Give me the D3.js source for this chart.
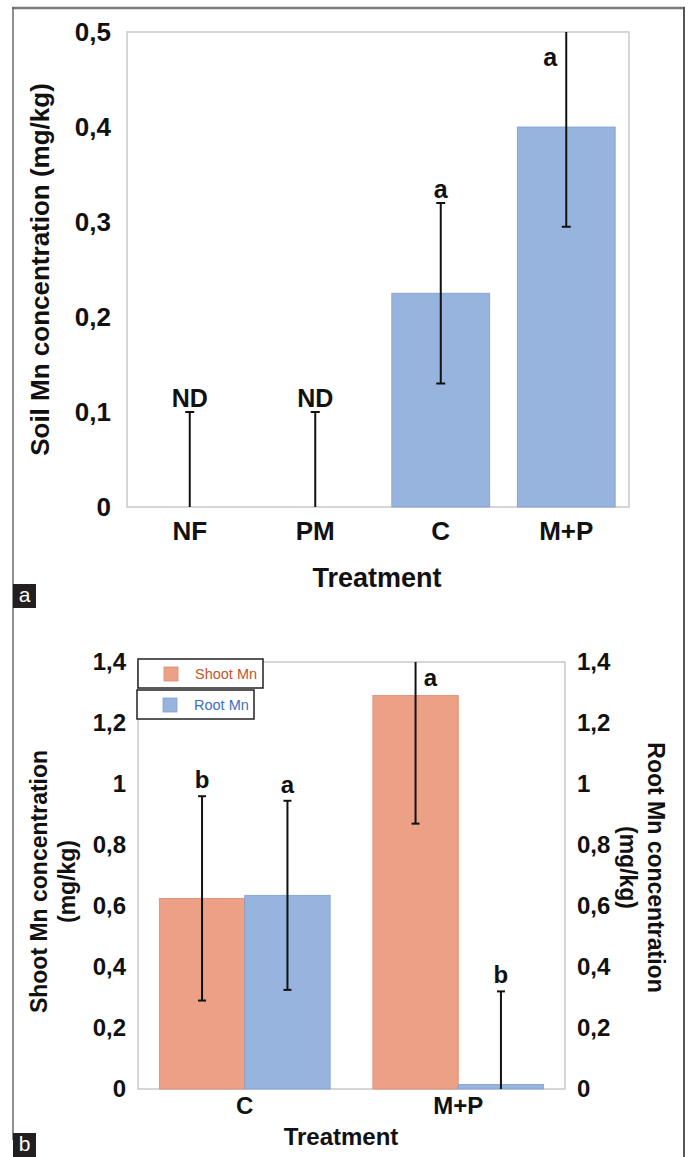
<!DOCTYPE html>
<html>
<head>
<meta charset="utf-8">
<script src="https://cdn.jsdelivr.net/npm/d3@7"></script>
<style>
  html, body { margin: 0; padding: 0; background: #fff; }
  svg { display: block; }
  text { font-family: "Liberation Sans", Arial, sans-serif; }
</style>
</head>
<body>
<svg id="chart" width="689" height="1157"></svg>
<script>
// ---------- DATA ----------
// Panel a: soil Mn
const categoriesA = ["NF", "PM", "C", "M+P"];
const soilMn      = [0, 0, 0.225, 0.4];
const soilErr     = [0.1, 0.1, 0.095, 0.105];
const soilLetters = ["ND", "ND", "a", "a"];
const ticksA      = [0, 0.1, 0.2, 0.3, 0.4, 0.5];

// Panel b: shoot and root Mn
const categoriesB   = ["C", "M+P"];
const seriesB       = ["Shoot Mn", "Root Mn"];
const shootMn       = [0.625, 1.29];
const shootErr      = [0.335, 0.42];
const rootMn        = [0.635, 0.015];
const rootErr       = [0.31, 0.305];
const shootLetters  = ["b", "a"];
const rootLetters   = ["a", "b"];
const ticksB        = [0, 0.2, 0.4, 0.6, 0.8, 1, 1.2, 1.4];

// ---------- STYLE ----------
const BLUE = "#96b4de", BLUE_EDGE = "#7f9fd2";
const SALMON = "#eca086", SALMON_EDGE = "#d98b70";
const GRID = "#c9c9c9";
const fmt = v => v === 0 ? "0" : String(+v.toFixed(2)).replace(".", ",");

const svg = d3.select("#chart");

// outer frame
svg.append("line").attr("x1", 12).attr("x2", 685).attr("y1", 8).attr("y2", 8)
  .attr("stroke", "#7a7a7a").attr("stroke-width", 2.5);
svg.append("line").attr("x1", 13).attr("x2", 13).attr("y1", 7).attr("y2", 1140)
  .attr("stroke", "#6a6a6a").attr("stroke-width", 1.5);
svg.append("line").attr("x1", 684).attr("x2", 684).attr("y1", 7).attr("y2", 1157)
  .attr("stroke", "#555").attr("stroke-width", 2);

function errorBar(g, x, v, e, y, capW) {
  const [d0, d1] = y.domain();
  const lo = Math.max(v - e, d0), hi = Math.min(v + e, d1);
  g.append("line").attr("x1", x).attr("x2", x).attr("y1", y(lo)).attr("y2", y(hi))
    .attr("stroke", "#111").attr("stroke-width", 2);
  if (v - e >= d0) g.append("line").attr("x1", x - capW / 2).attr("x2", x + capW / 2)
    .attr("y1", y(lo)).attr("y2", y(lo)).attr("stroke", "#111").attr("stroke-width", 2);
  if (v + e <= d1) g.append("line").attr("x1", x - capW / 2).attr("x2", x + capW / 2)
    .attr("y1", y(hi)).attr("y2", y(hi)).attr("stroke", "#111").attr("stroke-width", 2);
  return { hi, clipped: v + e > d1 };
}

function frame(g, x0, x1, y0, y1) {
  g.append("rect").attr("x", x0).attr("y", y1).attr("width", x1 - x0).attr("height", y0 - y1)
    .attr("fill", "none").attr("stroke", GRID).attr("stroke-width", 1.5);
}

function panelTag(letter, y) {
  svg.append("rect").attr("x", 13).attr("y", y).attr("width", 23).attr("height", 24).attr("fill", "#231f20");
  svg.append("text").attr("x", 24.5).attr("y", y + 18).attr("text-anchor", "middle")
    .attr("fill", "#fff").attr("font-size", 21).text(letter);
}

// ---------- PANEL A ----------
{
  const L = 127, R = 629, T = 32, B = 507;
  const g = svg.append("g");
  const x = d3.scaleBand().domain(categoriesA).range([L, R]).paddingInner(0.22).paddingOuter(0.11);
  const y = d3.scaleLinear().domain([0, 0.5]).range([B, T]);

  frame(g, L, R, B, T);

  g.selectAll("rect.bar").data(categoriesA).join("rect").attr("class", "bar")
    .attr("x", d => x(d)).attr("width", x.bandwidth())
    .attr("y", (d, i) => y(soilMn[i])).attr("height", (d, i) => B - y(soilMn[i]))
    .attr("fill", BLUE).attr("stroke", BLUE_EDGE).attr("stroke-width", 0.8);

  categoriesA.forEach((c, i) => {
    const cx = x(c) + x.bandwidth() / 2;
    const r = errorBar(g, cx, soilMn[i], soilErr[i], y, 9);
    const t = g.append("text").attr("font-size", 25).attr("font-weight", "bold")
      .attr("text-anchor", "middle").attr("fill", "#111").text(soilLetters[i]);
    if (r.clipped) t.attr("x", cx - 16).attr("y", T + 34);
    else t.attr("x", cx).attr("y", y(r.hi) - 5);
  });

  const ay = g.append("g").attr("transform", `translate(${L},0)`)
    .call(d3.axisLeft(y).tickValues(ticksA).tickSize(0).tickPadding(16).tickFormat(fmt));
  ay.select(".domain").remove();
  ay.selectAll("text").attr("font-size", 26).attr("font-weight", "bold").attr("fill", "#111")
    .attr("font-family", "'Liberation Sans', Arial, sans-serif");

  const ax = g.append("g").attr("transform", `translate(0,${B})`)
    .call(d3.axisBottom(x).tickSize(0).tickPadding(15));
  ax.select(".domain").remove();
  ax.selectAll("text").attr("font-size", 26).attr("font-weight", "bold").attr("fill", "#111")
    .attr("font-family", "'Liberation Sans', Arial, sans-serif");

  svg.append("text").attr("transform", `translate(49,${(T + B) / 2}) rotate(-90)`)
    .attr("text-anchor", "middle").attr("font-size", 26).attr("font-weight", "bold").attr("fill", "#111")
    .text("Soil Mn concentration (mg/kg)");
  svg.append("text").attr("x", 377).attr("y", 587).attr("text-anchor", "middle")
    .attr("font-size", 27).attr("font-weight", "bold").attr("fill", "#111").text("Treatment");
  panelTag("a", 584);
}

// ---------- PANEL B ----------
{
  const L = 138, R = 565, T = 662, B = 1089;
  const g = svg.append("g");
  const x0 = d3.scaleBand().domain(categoriesB).range([L, R]).paddingInner(0.2).paddingOuter(0.1);
  const x1 = d3.scaleBand().domain(seriesB).range([0, x0.bandwidth()]);
  const y = d3.scaleLinear().domain([0, 1.4]).range([B, T]);

  frame(g, L, R, B, T);

  const series = [
    { name: "Shoot Mn", vals: shootMn, errs: shootErr, letters: shootLetters, fill: SALMON, edge: SALMON_EDGE },
    { name: "Root Mn", vals: rootMn, errs: rootErr, letters: rootLetters, fill: BLUE, edge: BLUE_EDGE }
  ];
  series.forEach(s => {
    g.selectAll(null).data(categoriesB).join("rect")
      .attr("x", d => x0(d) + x1(s.name)).attr("width", x1.bandwidth())
      .attr("y", (d, i) => y(s.vals[i])).attr("height", (d, i) => B - y(s.vals[i]))
      .attr("fill", s.fill).attr("stroke", s.edge).attr("stroke-width", 0.8);
  });
  series.forEach(s => {
    categoriesB.forEach((c, i) => {
      const cx = x0(c) + x1(s.name) + x1.bandwidth() / 2;
      const r = errorBar(g, cx, s.vals[i], s.errs[i], y, 8);
      const t = g.append("text").attr("font-size", 24).attr("font-weight", "bold")
        .attr("text-anchor", "middle").attr("fill", "#111").text(s.letters[i]);
      if (r.clipped) t.attr("x", cx + 15).attr("y", T + 24);
      else t.attr("x", cx).attr("y", y(r.hi) - 8);
    });
  });

  const styleTicks = sel => sel.selectAll("text").attr("font-size", 24).attr("font-weight", "bold")
    .attr("fill", "#111").attr("font-family", "'Liberation Sans', Arial, sans-serif");
  const ayl = g.append("g").attr("transform", `translate(${L},0)`)
    .call(d3.axisLeft(y).tickValues(ticksB).tickSize(0).tickPadding(12).tickFormat(fmt));
  ayl.select(".domain").remove(); styleTicks(ayl);
  const ayr = g.append("g").attr("transform", `translate(${R},0)`)
    .call(d3.axisRight(y).tickValues(ticksB).tickSize(0).tickPadding(12).tickFormat(fmt));
  ayr.select(".domain").remove(); styleTicks(ayr);
  const ax = g.append("g").attr("transform", `translate(0,${B})`)
    .call(d3.axisBottom(x0).tickSize(0).tickPadding(8));
  ax.select(".domain").remove(); styleTicks(ax);

  // left title
  const lt = svg.append("text").attr("transform", `translate(47,${(T + B) / 2 + 6}) rotate(-90)`)
    .attr("text-anchor", "middle").attr("font-size", 23).attr("font-weight", "bold").attr("fill", "#111");
  lt.append("tspan").attr("x", 0).attr("dy", 0).text("Shoot Mn concentration");
  lt.append("tspan").attr("x", 0).attr("dy", 28).text("(mg/kg)");
  // right title
  const rt = svg.append("text").attr("transform", `translate(648,${(T + B) / 2 - 8}) rotate(90)`)
    .attr("text-anchor", "middle").attr("font-size", 23).attr("font-weight", "bold").attr("fill", "#111");
  rt.append("tspan").attr("x", 0).attr("dy", 0).text("Root Mn concentration");
  rt.append("tspan").attr("x", 0).attr("dy", 28).text("(mg/kg)");

  svg.append("text").attr("x", 341).attr("y", 1145).attr("text-anchor", "middle")
    .attr("font-size", 24).attr("font-weight", "bold").attr("fill", "#111").text("Treatment");

  // legend (two separate boxes)
  const legendBoxes = [
    { x: 138, y: 659, w: 125, h: 29, color: SALMON, edge: SALMON_EDGE, text: "#c4552b" },
    { x: 137, y: 690, w: 117, h: 29, color: BLUE, edge: BLUE_EDGE, text: "#3d6fc4" }
  ];
  seriesB.forEach((name, i) => {
    const b = legendBoxes[i];
    svg.append("rect").attr("x", b.x).attr("y", b.y).attr("width", b.w).attr("height", b.h)
      .attr("fill", "#fff").attr("stroke", "#222").attr("stroke-width", 1.5);
    svg.append("rect").attr("x", b.x + 26).attr("y", b.y + 8).attr("width", 14).attr("height", 14)
      .attr("fill", b.color).attr("stroke", b.edge).attr("stroke-width", 0.8);
    svg.append("text").attr("x", b.x + 57).attr("y", b.y + 20).attr("font-size", 14.5)
      .attr("fill", b.text).text(name);
  });

  panelTag("b", 1133);
}
</script>
</body>
</html>
